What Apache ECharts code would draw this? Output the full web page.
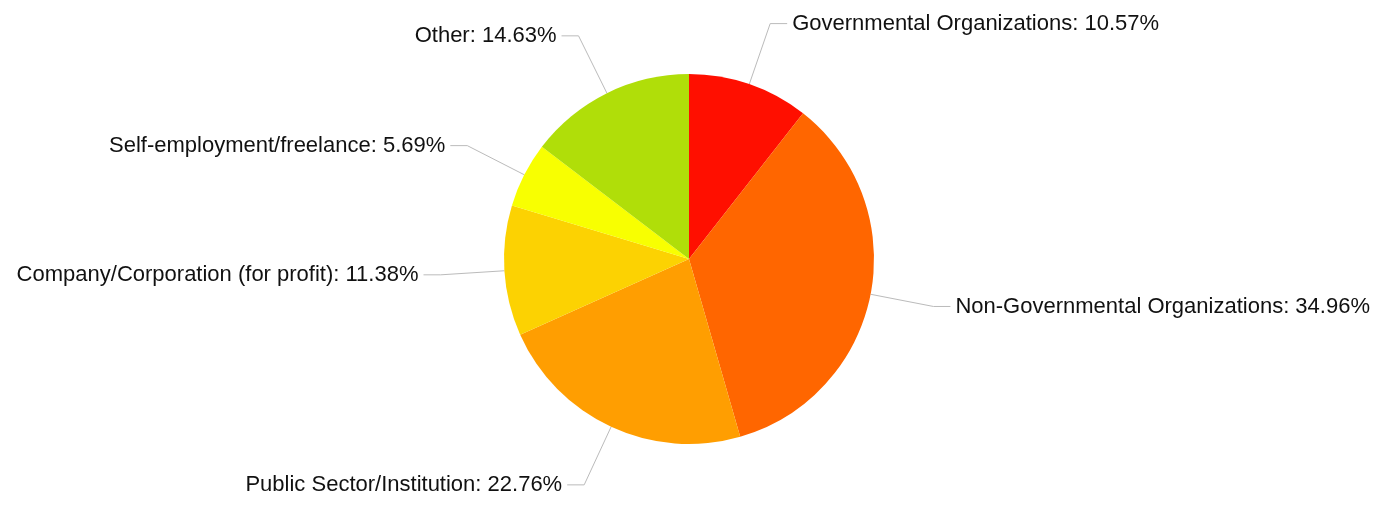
<!DOCTYPE html>
<html>
<head>
<meta charset="utf-8">
<script src="https://cdn.jsdelivr.net/npm/echarts@6/dist/echarts.min.js"></script>
<style>
html,body{margin:0;padding:0;background:#fff;}
#chart{width:1395px;height:506px;}
</style>
</head>
<body>
<div id="chart"></div>
<script>
const categories = [
  "Governmental Organizations",
  "Non-Governmental Organizations",
  "Public Sector/Institution",
  "Company/Corporation (for profit)",
  "Self-employment/freelance",
  "Other"
];
const percentages = [10.57, 34.96, 22.76, 11.38, 5.69, 14.63];
const sliceColors = ["#FF0F00", "#FF6600", "#FF9E01", "#FCD202", "#F8FF01", "#B0DE09"];

const chart = echarts.init(document.getElementById('chart'), null, {renderer: 'canvas'});
const data = categories.map((name, i) => ({
  name: name,
  value: percentages[i],
  itemStyle: {color: sliceColors[i]}
}));

chart.setOption({
  backgroundColor: '#ffffff',
  animation: false,
  series: [{
    type: 'pie',
    center: [689, 259],
    radius: 185,
    startAngle: 90,
    clockwise: true,
    avoidLabelOverlap: false,
    data: data,
    itemStyle: {borderWidth: 0},
    label: {
      show: true,
      formatter: p => p.name + ': ' + p.value.toFixed(2) + '%',
      fontFamily: '"Liberation Sans", Arial, sans-serif',
      fontSize: 22,
      color: '#111',
      alignTo: 'none',
      bleedMargin: 0,
      overflow: 'none',
      distanceToLabelLine: 5
    },
    labelLine: {
      show: true,
      length: 64,
      length2: 17,
      smooth: false,
      lineStyle: {color: '#bbbbbb', width: 1}
    },
    emphasis: {disabled: true}
  }]
});
</script>
</body>
</html>
